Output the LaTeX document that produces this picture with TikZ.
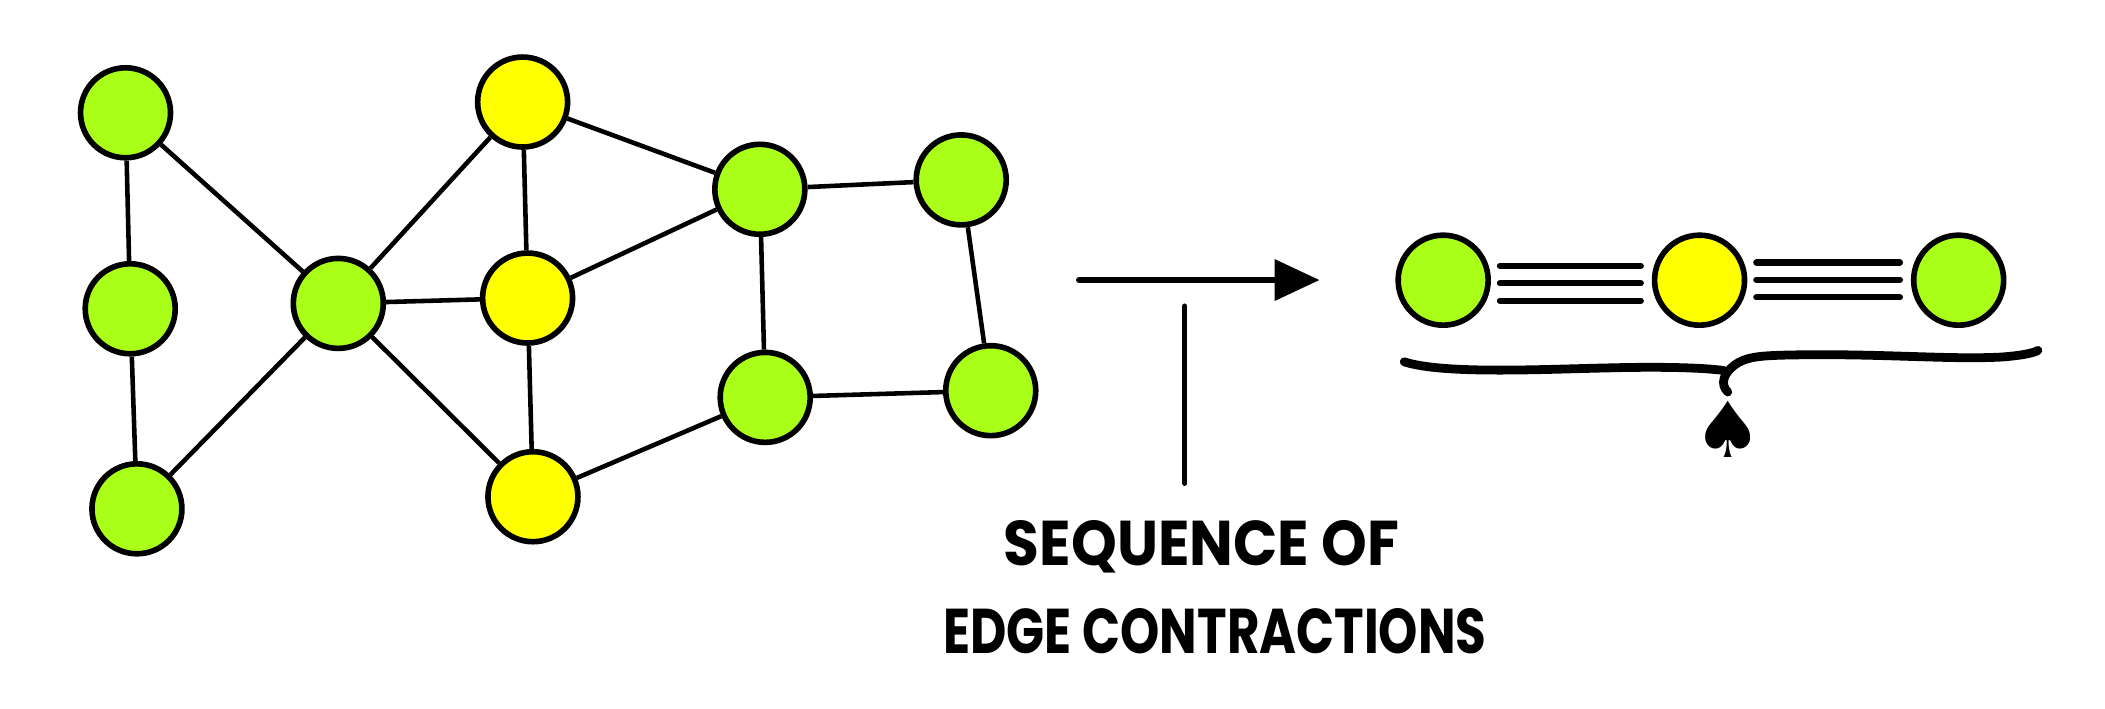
\documentclass[tikz,border=0pt]{standalone}
\usepackage{fontspec}
\setmainfont{Poppins}
\newfontfamily\symfont{DejaVu Sans}
\usetikzlibrary{arrows.meta}
\definecolor{ngreen}{RGB}{170,255,25}
\definecolor{nyellow}{RGB}{255,255,0}
\tikzset{
  vtx/.style={circle, draw=black, line width=1.6pt, minimum size=0.90cm, inner sep=0pt},
  gv/.style={vtx, fill=ngreen},
  yv/.style={vtx, fill=nyellow},
  edg/.style={line width=1.3pt},
  tri/.style={line width=1.8pt, line cap=round},
  bigarrow/.style={line width=1.9pt, line cap=round, -{Triangle[length=0.45cm, width=0.40cm]}},
  bracepart/.style={line width=2.5pt, line cap=round},
  lbl/.style={font=\bfseries\fontsize{18}{22}\selectfont, inner sep=0pt}
}
\begin{document}
\begin{tikzpicture}[x=0.013425cm, y=-0.013425cm]
\useasboundingbox (0,0) rectangle (1568,528);
% left graph
\node[gv] (A) at (93.5,84) {};
\node[gv] (B) at (97,230) {};
\node[gv] (C) at (102,379) {};
\node[gv] (D) at (252,226) {};
\node[yv] (E) at (389.3,76) {};
\node[yv] (F) at (393,222) {};
\node[yv] (G) at (397,370) {};
\node[gv] (H) at (566,141) {};
\node[gv] (I) at (716,134) {};
\node[gv] (J) at (570,296) {};
\node[gv] (K) at (738,291) {};
\draw[edg] (A) -- (B);
\draw[edg] (B) -- (C);
\draw[edg] (A) -- (D);
\draw[edg] (C) -- (D);
\draw[edg] (D) -- (E);
\draw[edg] (D) -- (F);
\draw[edg] (D) -- (G);
\draw[edg] (E) -- (F);
\draw[edg] (F) -- (G);
\draw[edg] (E) -- (H);
\draw[edg] (F) -- (H);
\draw[edg] (G) -- (J);
\draw[edg] (H) -- (I);
\draw[edg] (H) -- (J);
\draw[edg] (I) -- (K);
\draw[edg] (J) -- (K);
% arrow and pointer line
\coordinate (arS) at (804,208.6);
\coordinate (arE) at (983,208.6);
\draw[bigarrow] (arS) -- (arE);
\coordinate (vT) at (882.5,228);
\coordinate (vB) at (882.5,360);
\draw[line width=1.5pt, line cap=round] (vT) -- (vB);
% label
\node[lbl] (txt1) at (895,407) {\scalebox{0.92}[1]{SEQUENCE OF}};
\node[lbl] (txt2) at (905,470) {\scalebox{0.79}[1]{EDGE CONTRACTIONS}};
% right graph
\node[gv] (R1) at (1075,208.7) {};
\node[yv] (R2) at (1266,208.7) {};
\node[gv] (R3) at (1459,208.7) {};
\foreach \dy in {0.144,-0.031,-0.205}{
  \draw[tri] ([xshift=0.09cm,yshift=\dy cm]R1.east) -- ([xshift=-0.11cm,yshift=\dy cm]R2.west);
}
\foreach \dy in {0.178,0.003,-0.171}{
  \draw[tri] ([xshift=0.09cm,yshift=\dy cm]R2.east) -- ([xshift=-0.11cm,yshift=\dy cm]R3.west);
}
% brace
\draw[bracepart] (1046,269.5) .. controls (1075,279) and (1150,275) .. (1200,274) .. controls (1240,273) and (1270,274) .. (1284,276);
\draw[bracepart] (1287,292) .. controls (1281,286) and (1284,278) .. (1292,272) .. controls (1300,266) and (1310,265) .. (1330,264.5) .. controls (1400,263) and (1450,268) .. (1490,266) .. controls (1505,265) and (1515,263) .. (1518,261);
\node[font=\symfont\fontsize{22}{22}\selectfont, inner sep=0pt] (spade) at (1287,320) {♠};
\end{tikzpicture}
\end{document}
